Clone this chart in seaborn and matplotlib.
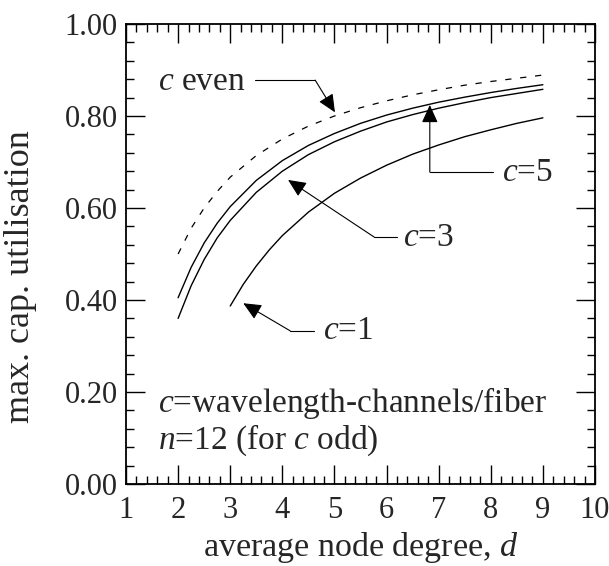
import matplotlib
matplotlib.use("Agg")
import matplotlib.pyplot as plt
import seaborn as sns
import pandas as pd
from matplotlib.ticker import MultipleLocator, FormatStrFormatter

# ---- data ----
d_all = [2, 2.25, 2.5, 2.75, 3, 3.5, 4, 4.5, 5, 5.5, 6, 6.5, 7, 7.5, 8, 8.5, 9]
c_even = [0.500, 0.556, 0.600, 0.636, 0.667, 0.714, 0.750, 0.778, 0.800,
          0.818, 0.833, 0.846, 0.857, 0.867, 0.875, 0.882, 0.889]
c5 = [0.405, 0.471, 0.524, 0.567, 0.603, 0.660, 0.703, 0.736, 0.762,
      0.784, 0.802, 0.817, 0.830, 0.841, 0.851, 0.860, 0.868]
c3 = [0.360, 0.431, 0.488, 0.535, 0.573, 0.634, 0.680, 0.716, 0.744,
      0.767, 0.787, 0.803, 0.817, 0.829, 0.840, 0.849, 0.858]
d_c1 = [3, 3.25, 3.5, 3.75, 4, 4.5, 5, 5.5, 6, 6.5, 7, 7.5, 8, 8.5, 9]
c1 = [0.387, 0.434, 0.474, 0.509, 0.540, 0.591, 0.632, 0.665, 0.693,
      0.717, 0.737, 0.755, 0.770, 0.784, 0.796]

x_ticks = [1, 2, 3, 4, 5, 6, 7, 8, 9, 10]
y_ticks = [0.0, 0.2, 0.4, 0.6, 0.8, 1.0]

sns.set_style("ticks")
plt.rcParams['font.family'] = ['Liberation Serif', 'DejaVu Serif']
plt.rcParams['mathtext.fontset'] = 'custom'
plt.rcParams['mathtext.rm'] = 'Liberation Serif'
plt.rcParams['mathtext.it'] = 'Liberation Serif:italic'

fig = plt.figure(figsize=(6.09, 5.66), dpi=100)
ax = fig.add_axes([126/609, 1-484/566, (595-126)/609, (484-24)/566])

df_even = pd.DataFrame({"d": d_all, "u": c_even})
df5 = pd.DataFrame({"d": d_all, "u": c5})
df3 = pd.DataFrame({"d": d_all, "u": c3})
df1 = pd.DataFrame({"d": d_c1, "u": c1})

sns.lineplot(data=df_even, x="d", y="u", ax=ax, color="black", lw=0.9,
             linestyle=(0, (5, 7)))
sns.lineplot(data=df5, x="d", y="u", ax=ax, color="black", lw=1.0)
sns.lineplot(data=df3, x="d", y="u", ax=ax, color="black", lw=1.0)
sns.lineplot(data=df1, x="d", y="u", ax=ax, color="black", lw=1.0)

ax.set_xlim(1, 10)
ax.set_ylim(0, 1)
ax.set_xticks(x_ticks)
ax.set_yticks(y_ticks)
ax.xaxis.set_minor_locator(MultipleLocator(0.2))
ax.yaxis.set_minor_locator(MultipleLocator(0.04))
ax.yaxis.set_major_formatter(FormatStrFormatter('%.2f'))
ax.tick_params(which='both', direction='in', top=True, right=True,
               color='black', width=1.0)
ax.tick_params(which='major', length=14, labelsize=22)
ax.tick_params(which='minor', length=6)
ax.tick_params(axis='x', which='major', pad=9)
ax.tick_params(axis='y', which='major', pad=6)
for s in ax.spines.values():
    s.set_linewidth(1.3)
    s.set_color('black')

ax.set_xlabel(r"average node degree, $d$", fontsize=24.5, labelpad=3)
ax.set_ylabel("max. cap. utilisation", fontsize=26)
ax.yaxis.set_label_coords(-0.19, 0.45)

fs = 24
ap = dict(arrowstyle='-|>,head_length=1.1,head_width=0.5',
          color='black', lw=0.8, shrinkA=0, shrinkB=0)
# c even annotation
ax.text(1.61, 0.874, r"$c$ even", fontsize=fs, va='center', ha='left')
ax.plot([3.48, 4.63], [0.878, 0.878], color='black', lw=0.8)
ax.annotate("", xy=(5.01, 0.808), xytext=(4.63, 0.878), arrowprops=ap)
# c=5
ax.text(8.22, 0.676, r"$c$=5", fontsize=fs, va='center', ha='left')
ax.plot([8.04, 6.83], [0.678, 0.678], color='black', lw=0.8)
ax.annotate("", xy=(6.83, 0.824), xytext=(6.83, 0.678), arrowprops=ap)
# c=3
ax.text(6.32, 0.535, r"$c$=3", fontsize=fs, va='center', ha='left')
ax.plot([6.2, 5.76], [0.537, 0.537], color='black', lw=0.8)
ax.annotate("", xy=(4.11, 0.661), xytext=(5.76, 0.537), arrowprops=ap)
# c=1
ax.text(4.78, 0.333, r"$c$=1", fontsize=fs, va='center', ha='left')
ax.plot([4.61, 4.15], [0.333, 0.333], color='black', lw=0.8)
ax.annotate("", xy=(3.25, 0.393), xytext=(4.15, 0.333), arrowprops=ap)

ax.text(1.61, 0.176, r"$c$=wavelength-channels/fiber", fontsize=fs,
        va='center', ha='left')
ax.text(1.61, 0.096, r"$n$=12 (for $c$ odd)", fontsize=fs,
        va='center', ha='left')

fig.savefig("out.png", dpi=100)
